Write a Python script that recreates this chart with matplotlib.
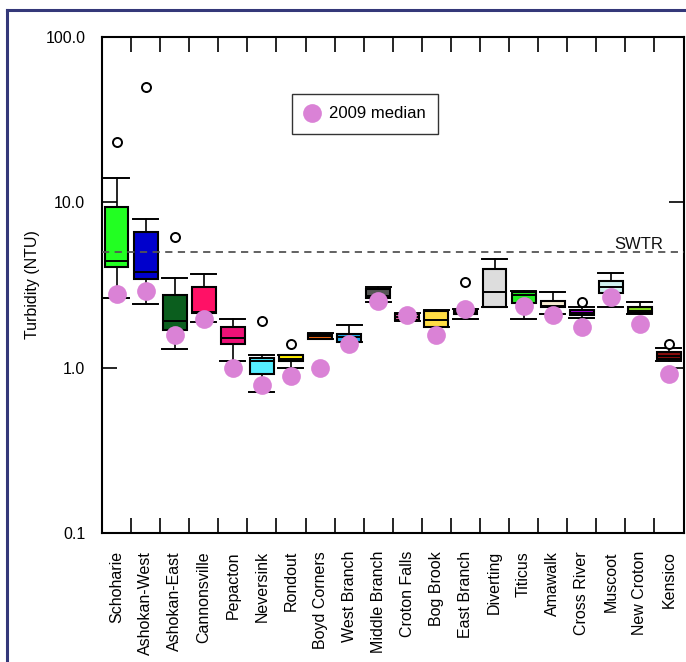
import numpy as np
import matplotlib
matplotlib.use("Agg")
import matplotlib.pyplot as plt
from matplotlib.lines import Line2D
from matplotlib.ticker import FixedLocator, NullLocator, FixedFormatter

plt.rcParams['font.family'] = ['Liberation Sans', 'DejaVu Sans']

# ---------------- data ----------------
sites = ["Schoharie", "Ashokan-West", "Ashokan-East", "Cannonsville", "Pepacton",
         "Neversink", "Rondout", "Boyd Corners", "West Branch", "Middle Branch",
         "Croton Falls", "Bog Brook", "East Branch", "Diverting", "Titicus",
         "Amawalk", "Cross River", "Muscoot", "New Croton", "Kensico"]

whisker_low = [2.63, 2.42, 1.30, 1.90, 1.10, 0.71, 1.00, 1.49, 1.42, 2.50,
               1.92, 1.77, 1.97, 2.34, 1.97, 2.10, 1.99, 2.32, 2.10, 1.10]
q1 = [4.08, 3.42, 1.69, 2.15, 1.40, 0.91, 1.10, 1.49, 1.42, 2.63,
      1.94, 1.77, 2.10, 2.34, 2.45, 2.32, 2.08, 2.82, 2.13, 1.13]
median = [4.43, 3.77, 1.92, 2.18, 1.52, 1.10, 1.13, 1.55, 1.53, 2.70,
          2.02, 1.94, 2.15, 2.86, 2.75, 2.36, 2.15, 3.09, 2.21, 1.18]
q3 = [9.40, 6.64, 2.75, 3.09, 1.77, 1.15, 1.19, 1.60, 1.60, 2.98,
      2.11, 2.20, 2.20, 3.94, 2.87, 2.54, 2.23, 3.36, 2.32, 1.24]
whisker_high = [14.0, 7.93, 3.50, 3.69, 1.98, 1.19, 1.19, 1.61, 1.81, 3.09,
                2.13, 2.22, 2.25, 4.52, 2.90, 2.88, 2.32, 3.72, 2.50, 1.31]
outliers = [[23.1], [49.6], [6.14], [], [], [1.92], [1.39], [], [], [],
            [], [], [3.28], [], [], [], [2.50], [], [], [1.39]]
median_2009 = [2.78, 2.91, 1.58, 1.96, 1.00, 0.786, 0.895, 1.00, 1.40, 2.53,
               2.08, 1.58, 2.25, np.nan, 2.36, 2.07, 1.77, 2.69, 1.84, 0.916]
box_colors = ["#22FF22", "#0000CC", "#0B5E1E", "#FF1166", "#EE1177",
              "#55EEFF", "#FFEE00", "#EE6611", "#22AAEE", "#555555",
              "#E0559C", "#FFDD44", "#9C7A1A", "#DDDDDD", "#22EE22",
              "#F5EBD0", "#A600D8", "#D0F0F0", "#88DD22", "#880C0C"]
swtr_level = 5.0
ytick_vals = [0.1, 1.0, 10.0, 100.0]
ytick_labels = ["0.1", "1.0", "10.0", "100.0"]

# ---------------- figure ----------------
W, H = 686, 662
fig = plt.figure(figsize=(W / 100, H / 100), dpi=100)
ax = fig.add_axes([102 / W, 1 - 533 / H, (683.5 - 102) / W, (533 - 37) / H])

stats = []
for i in range(len(sites)):
    stats.append(dict(med=median[i], q1=q1[i], q3=q3[i],
                      whislo=whisker_low[i], whishi=whisker_high[i],
                      fliers=outliers[i], label=sites[i]))

pos = np.arange(len(sites))
bp = ax.bxp(stats, positions=pos, widths=0.82, capwidths=0.86,
            patch_artist=True, showfliers=True,
            boxprops=dict(edgecolor="black", linewidth=1.5),
            medianprops=dict(color="black", linewidth=1.4),
            whiskerprops=dict(color="black", linewidth=1.2),
            capprops=dict(color="black", linewidth=1.4),
            flierprops=dict(marker="o", markerfacecolor="white",
                            markeredgecolor="black", markersize=6.5,
                            markeredgewidth=1.4, linestyle="none"))
for patch, c in zip(bp["boxes"], box_colors):
    patch.set_facecolor(c)

dots, = ax.plot(pos, median_2009, linestyle="none", marker="o",
                markersize=13.5, color="#DA82D6", markeredgewidth=0,
                zorder=5, label="2009 median")

# SWTR line (drawn over the boxes, under the dots)
ax.axhline(swtr_level, color="#555555", linewidth=1.3,
           linestyle=(0, (4, 3)), zorder=4)
ax.text(0.965, swtr_level, "SWTR", transform=ax.get_yaxis_transform(),
        ha="right", va="bottom", fontsize=12, color="#111111")

# axes
ax.set_yscale("log")
ax.set_ylim(0.1, 100)
ax.set_xlim(-0.5, len(sites) - 0.5)
ax.yaxis.set_major_locator(FixedLocator(ytick_vals))
ax.yaxis.set_major_formatter(FixedFormatter(ytick_labels))
ax.yaxis.set_minor_locator(NullLocator())
ax.tick_params(axis="y", which="major", direction="in", length=11,
               width=1.2, left=True, right=True, labelsize=11.5, pad=12)

ax.xaxis.set_major_locator(FixedLocator(np.arange(len(sites) - 1) + 0.5))
ax.xaxis.set_major_formatter(FixedFormatter([""] * (len(sites) - 1)))
ax.xaxis.set_minor_locator(FixedLocator(pos))
ax.xaxis.set_minor_formatter(FixedFormatter(sites))
ax.tick_params(axis="x", which="major", direction="in", length=11,
               width=1.2, top=True, bottom=True)
ax.tick_params(axis="x", which="minor", length=0, labelsize=11.5, pad=13,
               labelrotation=90)
for lab in ax.xaxis.get_minorticklabels():
    lab.set_verticalalignment("top")

for sp in ax.spines.values():
    sp.set_linewidth(1.5)
    sp.set_color("black")

ax.set_ylabel("Turbidity (NTU)", fontsize=11.5)
ax.yaxis.set_label_coords(-0.107, 0.5)

leg = ax.legend(handles=[dots], loc="center",
                bbox_to_anchor=(365 / W, 1 - 114 / H),
                bbox_transform=fig.transFigure, fontsize=12,
                frameon=True, fancybox=False, edgecolor="black",
                handlelength=1.0, handletextpad=0.5, borderpad=0.75,
                borderaxespad=0, markerscale=1.0)
leg.get_frame().set_linewidth(1.0)

# figure border (navy)
bc = "#343879"
fig.add_artist(Line2D([7 / W, 1.0], [1 - 10 / H, 1 - 10 / H],
                      transform=fig.transFigure, color=bc, linewidth=2.2))
fig.add_artist(Line2D([7 / W, 7 / W], [1 - 10 / H, 0.0],
                      transform=fig.transFigure, color=bc, linewidth=2.2))

fig.savefig("out.png", dpi=100)
